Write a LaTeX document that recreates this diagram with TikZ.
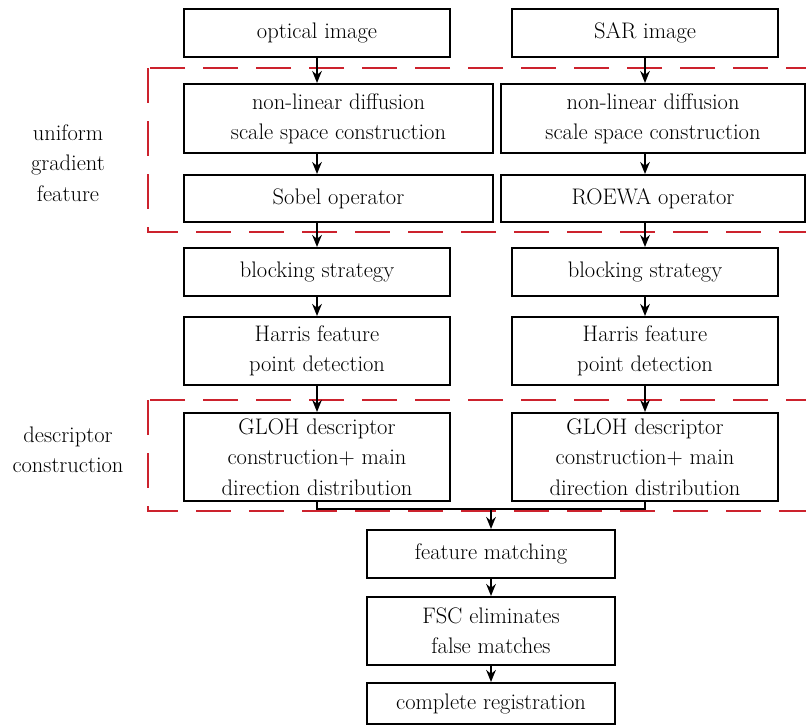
\documentclass[tikz,border=0pt]{standalone}
\usetikzlibrary{arrows.meta}
\definecolor{dashred}{RGB}{204,34,45}
\tikzset{
  box/.style={draw, line width=0.05cm, align=center, inner sep=0pt, font=\fontsize{16}{21.5}\selectfont},
  dashbox/.style={draw=dashred, line width=0.065cm, dash pattern=on 0.875cm off 0.45cm},
  arr/.style={line width=0.05cm, -{Stealth[length=0.3cm,width=0.24cm]}},
  lbl/.style={align=center, font=\fontsize{16}{21.5}\selectfont}
}
\begin{document}
\begin{tikzpicture}
                \clip (0.000000,0.000000) rectangle (20.150000,-18.150000);
                
                % Drawing dashed group frames
                \draw [dashbox] (3.700000,-1.700000) rectangle (20.600000,-5.800000);%
                \draw [dashbox] (3.700000,-10.000000) rectangle (20.600000,-12.775000);%
                
                % Drawing group labels
                \node [lbl] (lgrad) at (1.700000,-4.075000) {uniform\\gradient\\feature};%
                \node [lbl] (ldesc) at (1.700000,-11.250000) {descriptor\\construction};%
                
                % Drawing left column (optical)
                \node [box, minimum width=6.650cm, minimum height=1.200cm] (opt) at (7.925000,-0.825000) {optical image};%
                \node [box, minimum width=7.725cm, minimum height=1.725cm] (nlL) at (8.462500,-2.962500) {non-linear diffusion\\scale space construction};%
                \node [box, minimum width=7.725cm, minimum height=1.175cm] (sobel) at (8.462500,-4.962500) {Sobel operator};%
                \node [box, minimum width=6.650cm, minimum height=1.200cm] (blkL) at (7.925000,-6.800000) {blocking strategy};%
                \node [box, minimum width=6.650cm, minimum height=1.700cm] (harL) at (7.925000,-8.775000) {Harris feature\\point detection};%
                \node [box, minimum width=6.650cm, minimum height=2.200cm] (glohL) at (7.925000,-11.425000) {GLOH descriptor\\construction+ main\\direction distribution};%
                
                % Drawing right column (SAR)
                \node [box, minimum width=6.650cm, minimum height=1.200cm] (sar) at (16.125000,-0.825000) {SAR image};%
                \node [box, minimum width=7.600cm, minimum height=1.725cm] (nlR) at (16.325000,-2.962500) {non-linear diffusion\\scale space construction};%
                \node [box, minimum width=7.600cm, minimum height=1.175cm] (roewa) at (16.325000,-4.962500) {ROEWA operator};%
                \node [box, minimum width=6.650cm, minimum height=1.200cm] (blkR) at (16.125000,-6.800000) {blocking strategy};%
                \node [box, minimum width=6.650cm, minimum height=1.700cm] (harR) at (16.125000,-8.775000) {Harris feature\\point detection};%
                \node [box, minimum width=6.650cm, minimum height=2.200cm] (glohR) at (16.125000,-11.425000) {GLOH descriptor\\construction+ main\\direction distribution};%
                
                % Drawing common tail
                \node [box, minimum width=6.200cm, minimum height=1.200cm] (match) at (12.275000,-13.850000) {feature matching};%
                \node [box, minimum width=6.200cm, minimum height=1.700cm] (fsc) at (12.275000,-15.775000) {FSC eliminates\\false matches};%
                \node [box, minimum width=6.200cm, minimum height=1.025cm] (reg) at (12.275000,-17.587500) {complete registration};%
                \coordinate (mrg) at (12.275000,-12.725000);
                
                % Drawing arrows of left column
                \draw [arr] (opt.south) -- (opt.south |- nlL.north);%
                \draw [arr] (opt.south |- nlL.south) -- (opt.south |- sobel.north);%
                \draw [arr] (opt.south |- sobel.south) -- (blkL.north);%
                \draw [arr] (blkL.south) -- (harL.north);%
                \draw [arr] (harL.south) -- (glohL.north);%
                
                % Drawing arrows of right column
                \draw [arr] (sar.south) -- (sar.south |- nlR.north);%
                \draw [arr] (sar.south |- nlR.south) -- (sar.south |- roewa.north);%
                \draw [arr] (sar.south |- roewa.south) -- (blkR.north);%
                \draw [arr] (blkR.south) -- (harR.north);%
                \draw [arr] (harR.south) -- (glohR.north);%
                
                % Drawing merge and tail arrows
                \draw [line width=0.05cm] (glohL.south) |- (mrg) -| (glohR.south);%
                \draw [arr] (mrg) -- (match.north);%
                \draw [arr] (match.south) -- (fsc.north);%
                \draw [arr] (fsc.south) -- (reg.north);%
            \end{tikzpicture}
\end{document}
